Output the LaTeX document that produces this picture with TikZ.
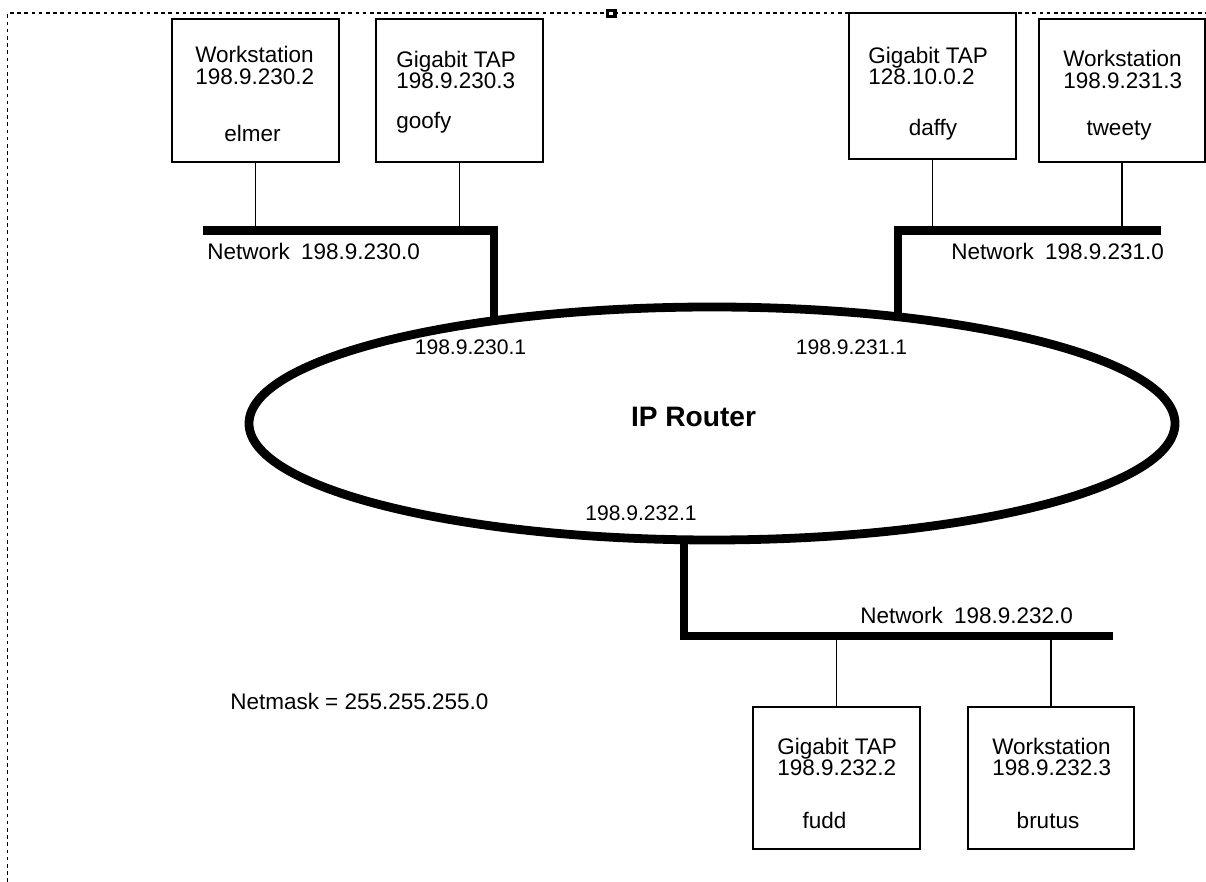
\documentclass[tikz,border=0pt]{standalone}
\usepackage{fontspec}
\setmainfont{Liberation Sans}
\usetikzlibrary{shapes.geometric}

\begin{document}
\begin{tikzpicture}[
    host/.style={draw, rectangle, line width=1.3pt, minimum width=4.175cm, minimum height=3.575cm, inner sep=0pt, outer sep=0pt},
    txt/.style={inner sep=0pt, align=left, font=\fontsize{16}{15}\selectfont},
    iface/.style={inner sep=0pt, font=\fontsize{15}{15}\selectfont},
    bus/.style={line width=0.22cm},
    wire/.style={line width=1.3pt},
    marquee/.style={line width=0.04cm, dash pattern=on 0.09cm off 0.09cm}
  ]
    % Frame, router, hosts and networks:
    \useasboundingbox (0, 0) rectangle (30.15, 22.05);
    \draw[marquee] (0.1875, 0) -- (0.1875, 21.7175) -- (30.15, 21.7175);
    \fill (15.1375, 21.605) rectangle (15.4125, 21.83);
    \fill[white] (15.225, 21.68) rectangle (15.325, 21.755);
    \node[ellipse, draw, line width=0.22cm, minimum width=23.15cm, minimum height=5.825cm, inner sep=0pt, outer sep=0pt] (router) at (17.8, 11.4625) {};
    \node[inner sep=0pt, font=\fontsize{20}{24}\selectfont\bfseries] (iprouter) at (17.3375, 11.625) {IP Router};
    \node[host] (elmer) at (6.3875, 19.7875) {};
    \node[host] (goofy) at (11.4875, 19.7875) {};
    \node[host, minimum height=3.65cm] (daffy) at (23.3125, 19.9) {};
    \node[host, minimum width=4.15cm] (tweety) at (28.05, 19.7875) {};
    \node[host, minimum height=3.55cm] (fudd) at (20.9125, 2.6) {};
    \node[host, minimum width=4.15cm, minimum height=3.55cm] (brutus) at (26.275, 2.6) {};
    \node[txt, anchor=west] (elmertype) at (4.875, 20.4125) {Workstation\\198.9.230.2};
    \node[txt] (elmername) at (6.3125, 18.725) {elmer};
    \node[txt, anchor=west] (goofytype) at (9.9, 20.3) {Gigabit TAP\\198.9.230.3};
    \node[txt, anchor=west] (goofyname) at (9.9, 18.975) {goofy};
    \node[txt, anchor=west] (daffytype) at (21.7, 20.4) {Gigabit TAP\\128.10.0.2};
    \node[txt] (daffyname) at (23.325, 18.8) {daffy};
    \node[txt, anchor=west] (tweetytype) at (26.575, 20.3125) {Workstation\\198.9.231.3};
    \node[txt] (tweetyname) at (27.975, 18.775) {tweety};
    \node[txt, anchor=west] (fuddtype) at (19.425, 3.125) {Gigabit TAP\\198.9.232.2};
    \node[txt] (fuddname) at (20.6125, 1.55) {fudd};
    \node[txt, anchor=west] (brutustype) at (24.8, 3.125) {Workstation\\198.9.232.3};
    \node[txt] (brutusname) at (26.2, 1.55) {brutus};
    \coordinate (net1w) at (5.075, 16.29);
    \coordinate (net1c) at (12.35, 16.29);
    \coordinate (net2e) at (29.025, 16.29);
    \coordinate (net2c) at (22.45, 16.29);
    \coordinate (net3c) at (17.1, 6.15);
    \coordinate (net3e) at (27.825, 6.15);
    \draw[bus] (net1w) -- (net1c) -- (net1c |- router.155);
    \draw[bus] (net2e) -- (net2c) -- (net2c |- router.30);
    \draw[bus] (net3e) -- (net3c) -- (net3c |- router.256);
    \draw[wire] (elmer) -- (elmer |- net1w);
    \draw[wire] (goofy) -- (goofy |- net1w);
    \draw[wire] (daffy) -- (daffy |- net2e);
    \draw[wire] (tweety) -- (tweety |- net2e);
    \draw[wire] (fudd) -- (fudd |- net3e);
    \draw[wire] (brutus) -- (brutus |- net3e);
    \node[txt, anchor=west] (net1lbl) at (5.175, 15.775) {Network\enspace 198.9.230.0};
    \node[txt, anchor=west] (net2lbl) at (23.775, 15.775) {Network\enspace 198.9.231.0};
    \node[txt, anchor=west] (net3lbl) at (21.5, 6.675) {Network\enspace 198.9.232.0};
    \node[iface] (if1) at (11.7625, 13.375) {198.9.230.1};
    \node[iface] (if2) at (21.2875, 13.375) {198.9.231.1};
    \node[iface] (if3) at (16.025, 9.225) {198.9.232.1};
    \node[txt, anchor=west] (netmask) at (5.75, 4.525) {Netmask = 255.255.255.0};
\end{tikzpicture}
\end{document}
